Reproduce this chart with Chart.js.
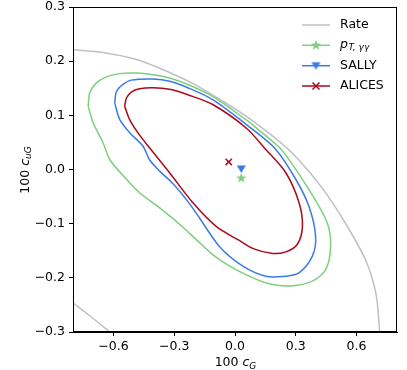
<!DOCTYPE html>
<html>
<head>
<meta charset="utf-8">
<script src="https://cdn.jsdelivr.net/npm/chart.js@4.4.1/dist/chart.umd.min.js"></script>
<style>
  html, body { margin: 0; padding: 0; background: #fff; }
</style>
</head>
<body>
<canvas id="chart" width="407" height="370"></canvas>
<script>
// axis ticks
var xTicks = [-0.6, -0.3, 0.0, 0.3, 0.6];
var yTicks = [-0.3, -0.2, -0.1, 0.0, 0.1, 0.2, 0.3];

// Rate contour (two pieces of a large ellipse)
var rateUpperX = [-0.80, -0.653, -0.486, -0.323, -0.200, -0.060, 0.056, 0.218, 0.310, 0.430, 0.540, 0.646, 0.695, 0.710, 0.714];
var rateUpperY = [0.221, 0.216, 0.203, 0.179, 0.157, 0.126, 0.098, 0.052, 0.020, -0.034, -0.096, -0.168, -0.227, -0.277, -0.300];
var rateLowerX = [-0.80, -0.717, -0.618];
var rateLowerY = [-0.246, -0.270, -0.300];

// p_T,yy contour
var ptX = [-0.725, -0.717, -0.684, -0.635, -0.569, -0.487, -0.405, -0.323, -0.233, -0.110, 0.054, 0.111, 0.218, 0.260, 0.365, 0.455, 0.472, 0.448, 0.382, 0.267, 0.152, 0.054, -0.028, -0.110, -0.192, -0.274, -0.372, -0.471, -0.536, -0.618, -0.651, -0.700, -0.725];
var ptY = [0.117, 0.142, 0.160, 0.171, 0.177, 0.178, 0.175, 0.169, 0.157, 0.135, 0.092, 0.075, 0.041, 0.022, -0.037, -0.098, -0.142, -0.185, -0.206, -0.215, -0.209, -0.194, -0.178, -0.157, -0.129, -0.101, -0.071, -0.043, -0.018, 0.018, 0.049, 0.086, 0.117];

// SALLY contour
var sallyX = [-0.594, -0.585, -0.553, -0.512, -0.405, -0.323, -0.233, -0.110, 0.087, 0.202, 0.300, 0.365, 0.398, 0.382, 0.316, 0.251, 0.152, 0.037, -0.077, -0.176, -0.225, -0.307, -0.372, -0.422, -0.454, -0.520, -0.569, -0.594];
var sallyY = [0.123, 0.144, 0.157, 0.165, 0.167, 0.163, 0.151, 0.129, 0.074, 0.037, -0.018, -0.068, -0.123, -0.160, -0.191, -0.197, -0.197, -0.178, -0.142, -0.089, -0.063, -0.026, -0.003, 0.018, 0.043, 0.068, 0.092, 0.123];

// ALICES contour
var alicesX = [-0.545, -0.536, -0.512, -0.471, -0.405, -0.323, -0.233, -0.110, 0.054, 0.152, 0.251, 0.316, 0.333, 0.308, 0.251, 0.185, 0.090, 0.021, -0.093, -0.209, -0.323, -0.422, -0.480, -0.520, -0.545];
var alicesY = [0.117, 0.132, 0.143, 0.149, 0.151, 0.148, 0.138, 0.120, 0.077, 0.037, -0.006, -0.061, -0.105, -0.138, -0.152, -0.155, -0.146, -0.131, -0.105, -0.061, -0.006, 0.040, 0.068, 0.092, 0.117];

// best-fit points
var bestPt = [0.031, -0.015];
var bestSally = [0.031, 0.001];
var bestAlices = [-0.031, 0.014];

var colRate = '#c0c0c0';
var colPt = '#7ccf7c';
var colSally = '#3d7ae6';
var colAlices = '#aa0a1c';
var fontFamily = '"DejaVu Sans", sans-serif';
var fontSize = 12.5;

function pts(xs, ys) {
  return xs.map(function(x, i) { return { x: x, y: ys[i] }; });
}

function makeStar(color) {
  var c = document.createElement('canvas');
  c.width = 12; c.height = 12;
  var g = c.getContext('2d');
  g.fillStyle = color;
  g.beginPath();
  for (var i = 0; i < 10; i++) {
    var r = i % 2 === 0 ? 5.5 : 2.2;
    var a = -Math.PI / 2 + i * Math.PI / 5;
    var px = 6 + r * Math.cos(a), py = 6.5 + r * Math.sin(a);
    if (i === 0) g.moveTo(px, py); else g.lineTo(px, py);
  }
  g.closePath();
  g.fill();
  return c;
}

function makeTriDown(color) {
  var c = document.createElement('canvas');
  c.width = 11; c.height = 10;
  var g = c.getContext('2d');
  g.fillStyle = color;
  g.beginPath();
  g.moveTo(1, 1.5);
  g.lineTo(10, 1.5);
  g.lineTo(5.5, 9);
  g.closePath();
  g.fill();
  return c;
}

var starImg = makeStar(colPt);
var triImg = makeTriDown(colSally);

function lineSet(label, data, color) {
  return {
    label: label, data: data, showLine: true, borderColor: color,
    borderWidth: 1.5, pointRadius: 0, tension: 0.3, fill: false
  };
}

function noPad(s) {
  s.paddingTop = 0; s.paddingBottom = 0; s.paddingLeft = 0; s.paddingRight = 0;
}

var boxPlugin = {
  id: 'box',
  afterDraw: function(chart) {
    var ctx = chart.ctx, a = chart.chartArea;
    ctx.save();
    ctx.strokeStyle = '#000';
    ctx.lineWidth = 1;
    ctx.strokeRect(Math.round(a.left) + 0.5, Math.round(a.top) + 0.5,
      Math.round(a.right - a.left) - 1, Math.round(a.bottom - a.top) - 1);

    // legend
    var rows = [25, 45.3, 65.7, 86];
    var x0 = 302, x1 = 330, tx = 340;
    var cols = [colRate, colPt, colSally, colAlices];
    ctx.font = fontSize + 'px ' + fontFamily;
    ctx.textBaseline = 'middle';
    ctx.fillStyle = '#000';
    for (var i = 0; i < 4; i++) {
      var y = rows[i];
      ctx.strokeStyle = cols[i];
      ctx.lineWidth = 1.5;
      ctx.beginPath(); ctx.moveTo(x0, y); ctx.lineTo(x1, y); ctx.stroke();
    }
    ctx.drawImage(starImg, 316 - 6, rows[1] - 6.5);
    ctx.drawImage(triImg, 316 - 5.5, rows[2] - 5);
    ctx.strokeStyle = colAlices; ctx.lineWidth = 1.5;
    ctx.beginPath();
    ctx.moveTo(312.5, rows[3] - 3.5); ctx.lineTo(319.5, rows[3] + 3.5);
    ctx.moveTo(319.5, rows[3] - 3.5); ctx.lineTo(312.5, rows[3] + 3.5);
    ctx.stroke();

    ctx.fillStyle = '#000';
    ctx.textAlign = 'left';
    ctx.fillText('Rate', tx, rows[0]);
    ctx.fillText('SALLY', tx, rows[2]);
    ctx.fillText('ALICES', tx, rows[3]);
    // p_{T,yy}
    ctx.font = 'italic ' + fontSize + 'px ' + fontFamily;
    ctx.fillText('p', tx, rows[1] - 1);
    var pw = ctx.measureText('p').width;
    ctx.font = 'italic ' + (fontSize * 0.72) + 'px ' + fontFamily;
    ctx.fillText('T, \u03b3\u03b3', tx + pw + 0.5, rows[1] + 2.5);

    // axis titles
    drawMathTitle(ctx, 235.5, 366, '100', 'c', 'G', false);
    drawMathTitle(ctx, 170, 28.5, '100', 'c', 'uG', true);
    ctx.restore();
  }
};

function drawMathTitle(ctx, center, base, num, sym, sub, vertical) {
  ctx.save();
  ctx.fillStyle = '#000';
  ctx.textBaseline = 'alphabetic';
  ctx.textAlign = 'left';
  var fN = fontSize + 'px ' + fontFamily;
  var fI = 'italic ' + fontSize + 'px ' + fontFamily;
  var fS = 'italic ' + (fontSize * 0.72) + 'px ' + fontFamily;
  ctx.font = fN; var w1 = ctx.measureText(num + ' ').width;
  ctx.font = fI; var w2 = ctx.measureText(sym).width;
  ctx.font = fS; var w3 = ctx.measureText(sub).width;
  var total = w1 + w2 + w3;
  if (vertical) {
    ctx.translate(base, center);
    ctx.rotate(-Math.PI / 2);
  } else {
    ctx.translate(center, base);
  }
  var x = -total / 2;
  ctx.font = fN; ctx.fillText(num + ' ', x, 0);
  ctx.font = fI; ctx.fillText(sym, x + w1, 0);
  ctx.font = fS; ctx.fillText(sub, x + w1 + w2, 2.5);
  ctx.restore();
}

function fmt(v) {
  return v.toFixed(1).replace('-', '\u2212');
}

new Chart(document.getElementById('chart'), {
  type: 'scatter',
  data: {
    datasets: [
      lineSet('Rate', pts(rateUpperX, rateUpperY), colRate),
      lineSet('Rate2', pts(rateLowerX, rateLowerY), colRate),
      lineSet('pT', pts(ptX, ptY), colPt),
      lineSet('SALLY', pts(sallyX, sallyY), colSally),
      lineSet('ALICES', pts(alicesX, alicesY), colAlices),
      { label: 'ptBest', data: [{ x: bestPt[0], y: bestPt[1] }], pointStyle: starImg, pointRadius: 6 },
      { label: 'sallyBest', data: [{ x: bestSally[0], y: bestSally[1] }], pointStyle: triImg, pointRadius: 6 },
      { label: 'alicesBest', data: [{ x: bestAlices[0], y: bestAlices[1] }], pointStyle: 'crossRot',
        pointRadius: 4.5, borderColor: colAlices, borderWidth: 1.5 }
    ]
  },
  options: {
    responsive: false,
    animation: false,
    devicePixelRatio: 1,
    layout: { padding: { top: 7, right: 10, left: 0, bottom: 0 } },
    plugins: { legend: { display: false }, tooltip: { enabled: false } },
    scales: {
      x: {
        type: 'linear', min: -0.8, max: 0.8,
        afterFit: function(s) { s.height = 38; noPad(s); },
        afterBuildTicks: function(s) { s.ticks = xTicks.map(function(v) { return { value: v }; }); },
        grid: { drawOnChartArea: false, drawTicks: true, tickLength: 4, color: '#000', lineWidth: 1 },
        border: { display: true, color: '#000', width: 1 },
        ticks: { color: '#000', font: { family: fontFamily, size: fontSize }, padding: 3, maxRotation: 0,
          callback: function(v) { return fmt(v); } }
      },
      y: {
        type: 'linear', min: -0.3, max: 0.3,
        afterFit: function(s) { s.width = 73; noPad(s); },
        afterBuildTicks: function(s) { s.ticks = yTicks.map(function(v) { return { value: v }; }); },
        grid: { drawOnChartArea: false, drawTicks: true, tickLength: 4, color: '#000', lineWidth: 1 },
        border: { display: true, color: '#000', width: 1 },
        ticks: { color: '#000', font: { family: fontFamily, size: fontSize }, padding: 4,
          callback: function(v) { return fmt(v); } }
      }
    }
  },
  plugins: [boxPlugin]
});
</script>
</body>
</html>
